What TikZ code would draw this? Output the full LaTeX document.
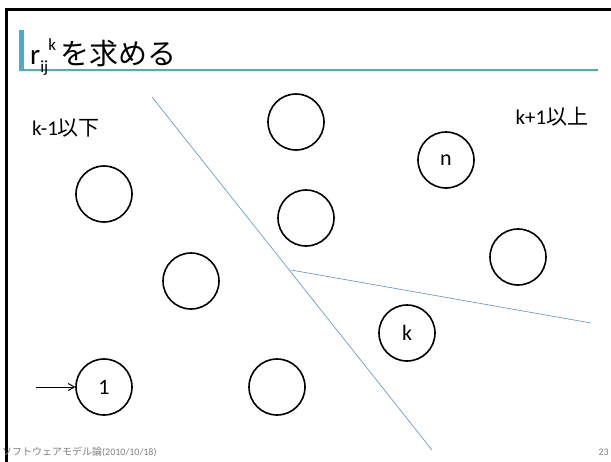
\documentclass[tikz,border=0pt]{standalone}
\usepackage{fontspec}
\usetikzlibrary{arrows.meta}
\setmainfont{Carlito}
\newfontfamily\jp{Noto Sans CJK JP}
\definecolor{teal}{HTML}{4BACC6}
\definecolor{divblue}{HTML}{5B8FD6}
\definecolor{footgray}{HTML}{7F7F7F}
\begin{document}
\begin{tikzpicture}[x=1pt,y=-1pt,
  state/.style={circle,draw=black,line width=1.6pt,minimum size=56pt,inner sep=0pt,font=\fontsize{22}{24}\selectfont},
  divider/.style={draw=divblue,line width=0.6pt},
  lbl/.style={inner sep=0pt,font=\fontsize{21}{24}\selectfont}]
\useasboundingbox (0,0) rectangle (611,461);
\fill[white] (0,0) rectangle (611,461);
% frame
\draw[line width=3pt] (6,470) -- (6,9.5) -- (620,9.5);
% title
\fill[teal] (18.5,30) rectangle (24,71);
\fill[teal] (18.5,68.5) rectangle (598,71);
\node[anchor=base west,inner sep=0pt,font=\fontsize{29}{32}\selectfont] (title) at (30,64)
  {r\raisebox{-0.3em}{\fontsize{17}{18}\selectfont ij}\raisebox{0.45em}{\fontsize{17}{18}\selectfont k}\,{\jp を求める}};
% labels
\node[lbl] (lo) at (66,128) {k-1{\jp 以下}};
\node[lbl] (hi) at (552,117) {k+1{\jp 以上}};
% dividers
\coordinate (d1a) at (152,97);
\coordinate (d1b) at (432,450);
\coordinate (d2a) at (291,270);
\coordinate (d2b) at (591,323);
\draw[divider] (d1a) -- (d1b);
\draw[divider] (d2a) -- (d2b);
% states
\node[state] (top) at (296,122) {};
\node[state] (n) at (446,160) {n};
\node[state] (l1) at (104,194) {};
\node[state] (m) at (306,218) {};
\node[state] (r) at (518,257) {};
\node[state] (l2) at (191,281) {};
\node[state] (k) at (407,333) {k};
\node[state] (b) at (277,387) {};
\node[state] (one) at (104,387) {1};
\coordinate (start) at (36,387);
\draw[-{Straight Barb[length=6pt,width=7pt]},line width=1pt] (start) -- (one);
% footer
\node[anchor=base west,inner sep=0pt,text=footgray,font=\fontsize{10}{12}\selectfont] (foot) at (2,455) {{\jp ソフトウェアモデル論}(2010/10/18)};
\node[anchor=base east,inner sep=0pt,text=footgray,font=\fontsize{10}{12}\selectfont] (page) at (609,455) {23};
\end{tikzpicture}
\end{document}
